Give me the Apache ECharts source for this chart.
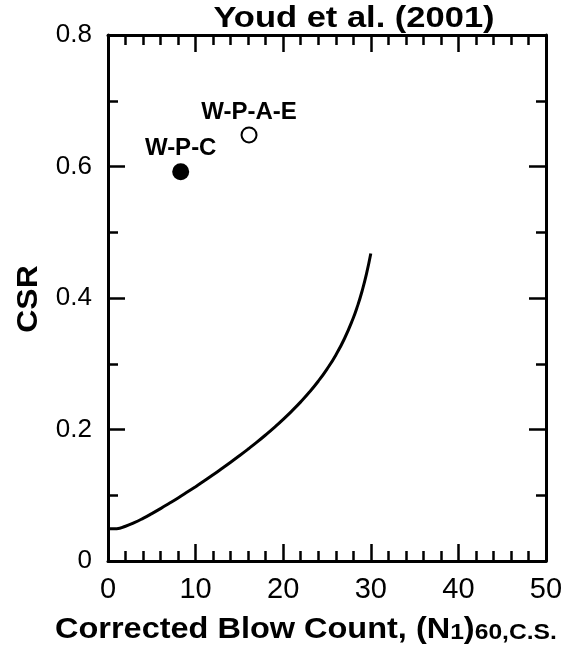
<!DOCTYPE html>
<html>
<head>
<meta charset="utf-8">
<script src="https://cdn.jsdelivr.net/npm/echarts@6/dist/echarts.min.js"></script>
<style>
html,body{margin:0;padding:0;background:#fff;}
#chart{width:568px;height:652px;}
</style>
</head>
<body>
<div id="chart"></div>
<script>
// Youd et al. (2001) CRR boundary curve
var curveN = [0,1,2,3,4,5,6,7,8,9,10,11,12,13,14,15,16,17,18,19,20,21,22,23,24,25,26,27,28,28.5,29,29.5,30];
var curveCSR = [0.0491,0.0492,0.0529,0.0584,0.0649,0.0721,0.0797,0.0877,0.0959,0.1044,0.1131,0.1220,0.1312,0.1406,0.1502,0.1601,0.1703,0.1808,0.1918,0.2033,0.2154,0.2283,0.2420,0.2569,0.2734,0.2919,0.3131,0.3384,0.3696,0.3884,0.4103,0.4362,0.4676];
// case points
var wpcN = [8.3], wpcCSR = [0.592], wpcLabel = 'W-P-C';
var wpaeN = [16.1], wpaeCSR = [0.648], wpaeLabel = 'W-P-A-E';
// axes
var xMin = 0, xMax = 50, xStep = 10;
var yMin = 0, yMax = 0.8, yStep = 0.2;
var titleText = 'Youd et al. (2001)';
var yName = 'CSR';

var FONT = '"Liberation Sans", Arial, sans-serif';
var chart = echarts.init(document.getElementById('chart'), null, {renderer:'canvas'});

function zip(a,b){ return a.map(function(v,i){ return [v,b[i]]; }); }

function xAxisDef(pos, showLabel){
  return {
    type:'value', position:pos, min:xMin, max:xMax, interval:xStep,
    axisLine:{show:true, onZero:false, lineStyle:{color:'#000', width:3}},
    axisTick:{show:true, inside:true, length:17, lineStyle:{color:'#000', width:2.5}},
    minorTick:{show:true, splitNumber:5, length:10, lineStyle:{color:'#000', width:2.5}},
    splitLine:{show:false}, minorSplitLine:{show:false},
    axisLabel:{show:showLabel, color:'#000', fontSize:29, fontFamily:FONT, margin:14}
  };
}
function yAxisDef(pos, showLabel){
  return {
    type:'value', position:pos, min:yMin, max:yMax, interval:yStep,
    axisLine:{show:true, onZero:false, lineStyle:{color:'#000', width:3}},
    axisTick:{show:true, inside:true, length:17, lineStyle:{color:'#000', width:2.5}},
    minorTick:{show:true, splitNumber:2, length:10, lineStyle:{color:'#000', width:2.5}},
    splitLine:{show:false}, minorSplitLine:{show:false},
    axisLabel:{show:showLabel, color:'#000', fontSize:26, fontFamily:FONT, margin:16,
      formatter:function(v){ return v===0 ? '0' : String(+v.toFixed(1)); }}
  };
}

var option = {
  backgroundColor:'#fff',
  animation:false,
  grid:{left:108, right:22, top:35, bottom:91, containLabel:false},
  xAxis:[xAxisDef('bottom', true), xAxisDef('top', false)],
  yAxis:[yAxisDef('left', true), yAxisDef('right', false)],
  series:[
    {type:'line', data:zip(curveN, curveCSR), smooth:true, showSymbol:false, symbol:'none',
     lineStyle:{color:'#000', width:3}, z:3},
    {type:'scatter', data:zip(wpcN, wpcCSR), symbol:'circle', symbolSize:17,
     itemStyle:{color:'#000', opacity:1},
     label:{show:true, formatter:wpcLabel, position:'inside', offset:[0,-23],
       color:'#000', fontSize:24, fontWeight:'bold', fontFamily:FONT}},
    {type:'scatter', data:zip(wpaeN, wpaeCSR), symbol:'circle', symbolSize:15,
     itemStyle:{color:'#fff', borderColor:'#000', borderWidth:2, opacity:1},
     label:{show:true, formatter:wpaeLabel, position:'inside', offset:[0,-23],
       color:'#000', fontSize:24, fontWeight:'bold', fontFamily:FONT}}
  ],
  graphic:[
    {type:'text', x:354, y:19, scaleX:1.15, z:10,
     style:{text:titleText, fill:'#000', fontSize:30, fontWeight:'bold', fontFamily:FONT,
       align:'center', verticalAlign:'middle'}},
    {type:'text', x:29, y:299, rotation:Math.PI/2, scaleX:1.1,
     style:{text:yName, fill:'#000', fontSize:29, fontWeight:'bold', fontFamily:FONT,
       align:'center', verticalAlign:'middle'}},
    {type:'text', x:55, y:604, scaleX:1.12,
     style:{text:'{m|Corrected Blow Count, (N}{a|1}{m|)}{b|60,C.S.}', fill:'#000',
       align:'left', verticalAlign:'top',
       rich:{
         m:{fontSize:29, fontWeight:'bold', fontFamily:FONT, lineHeight:40, verticalAlign:'bottom', fill:'#000'},
         a:{fontSize:22, fontWeight:'bold', fontFamily:FONT, lineHeight:24, verticalAlign:'bottom', fill:'#000'},
         b:{fontSize:22, fontWeight:'bold', fontFamily:FONT, lineHeight:19, verticalAlign:'bottom', fill:'#000'}
       }}}
  ]
};
chart.setOption(option);
</script>
</body>
</html>
